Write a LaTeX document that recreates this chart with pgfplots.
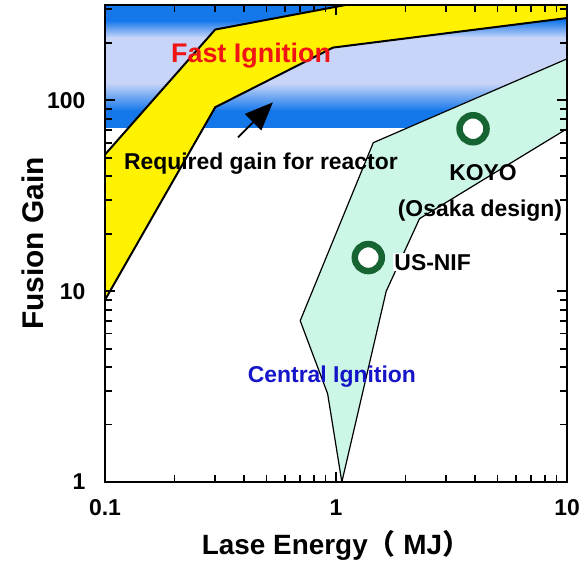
\documentclass[border=0pt]{standalone}
\usepackage{pgfplots}
\pgfplotsset{compat=1.18}
\usetikzlibrary{arrows.meta}
\usepackage{fontspec}
\setmainfont{Liberation Sans}
\newfontfamily\cjk{Noto Sans CJK SC}
\definecolor{bandDark}{RGB}{20,120,235}
\definecolor{bandLight}{RGB}{200,212,248}
\definecolor{mint}{RGB}{204,246,230}
\definecolor{ringgreen}{RGB}{22,100,50}
\definecolor{fired}{RGB}{240,20,20}
\definecolor{ciblue}{RGB}{20,20,200}
\begin{document}
\begin{tikzpicture}
\useasboundingbox (-105bp,-83bp) rectangle (479bp,482bp);
\begin{axis}[
  at={(0,0)}, anchor=south west,
  xmode=log, ymode=log,
  scale only axis, width=462bp, height=477bp,
  xmin=0.1, xmax=10, ymin=1, ymax=316,
  xtick={0.1,1,10}, xticklabels={0.1,1,10},
  ytick={1,10,100}, yticklabels={1,10,100},
  minor xtick={0.2,0.3,0.4,0.5,0.6,0.7,0.8,0.9,2,3,4,5,6,7,8,9},
  minor ytick={2,3,4,5,6,7,8,9,20,30,40,50,60,70,80,90,200,300},
  /pgf/number format/assume math mode=true,
  axis line style={line width=2.2bp},
  every tick/.style={line width=1.8bp, black},
  major tick length=10bp, minor tick length=7bp,
  tick align=inside,
  ticklabel style={font=\fontsize{23}{27}\selectfont\bfseries},
  xticklabel style={yshift=-14bp},
  yticklabel style={xshift=-16bp},
  xlabel={Lase Energy{\cjk（} MJ{\cjk）}},
  ylabel={Fusion Gain},
  xlabel style={font=\fontsize{28}{32}\selectfont\bfseries, at={(axis description cs:0.5,-0.132)},anchor=center},
  ylabel style={font=\fontsize{30}{34}\selectfont\bfseries, at={(axis description cs:-0.156,0.5)},anchor=center},
  clip=true,
  axis on top,
]
% required gain band
\addplot[draw=none, fill=bandDark] coordinates {(0.1,260) (10,260) (10,330) (0.1,330)} -- cycle;
\addplot[draw=none, top color=bandDark, bottom color=bandLight] coordinates {(0.1,213) (10,213) (10,262) (0.1,262)} -- cycle;
\addplot[draw=none, fill=bandLight] coordinates {(0.1,122) (10,122) (10,215) (0.1,215)} -- cycle;
\addplot[draw=none, top color=bandLight, bottom color=bandDark] coordinates {(0.1,88) (10,88) (10,123) (0.1,123)} -- cycle;
\addplot[draw=none, fill=bandDark] coordinates {(0.1,72) (10,72) (10,89) (0.1,89)} -- cycle;
% central ignition region
\addplot[fill=mint, draw=black, line width=1.2bp] coordinates {(1.06,1) (0.92,2.9) (0.7,7) (1.45,60) (10,165) (10,71) (2.3,24) (1.65,10) (1.06,1)} -- cycle;
% fast ignition region
\addplot[fill=yellow, draw=black, line width=2bp] coordinates {(0.1,9) (0.3,92) (0.97,189) (10,270) (10,340) (1.4,334) (0.3,235) (0.1,52)} -- cycle;
% designs
\addplot[only marks, mark=*, mark size=13.5bp, mark options={draw=ringgreen, fill=white, line width=6.5bp}] coordinates {(1.38,15) (3.92,71)};
% arrow
\addplot[line width=1.8bp, -{Triangle[length=28bp,width=23bp]}] coordinates {(0.3765,64) (0.533,97.6)};
% texts
\node[text=fired, font=\fontsize{27}{30}\selectfont\bfseries] at (axis cs:0.429,172) {Fast Ignition};
\node[font=\fontsize{23}{27}\selectfont\bfseries] at (axis cs:0.473,46.8) {Required gain for reactor};
\node[font=\fontsize{23}{27}\selectfont\bfseries] at (axis cs:4.33,42) {KOYO};
\node[font=\fontsize{23}{27}\selectfont\bfseries] at (axis cs:4.2,26.5) {(Osaka design)};
\node[anchor=west, fill=white, inner sep=1bp, font=\fontsize{23}{27}\selectfont\bfseries] at (axis cs:1.77,14.2) {US-NIF};
\node[text=ciblue, font=\fontsize{23}{27}\selectfont\bfseries] at (axis cs:0.96,3.55) {Central Ignition};
\end{axis}
\end{tikzpicture}
\end{document}
